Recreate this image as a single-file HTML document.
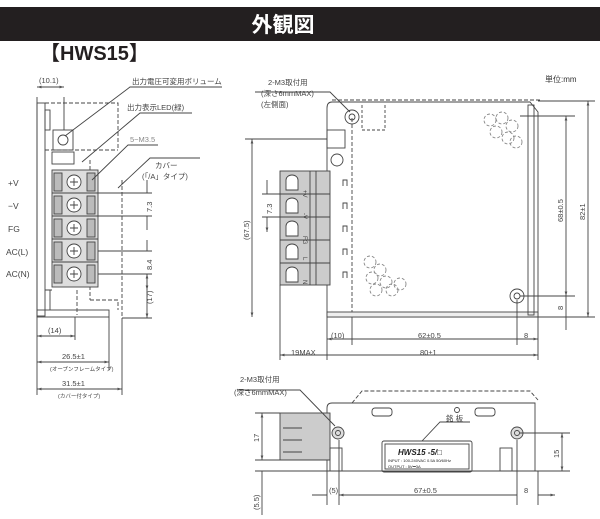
<!DOCTYPE html>
<html><head><meta charset="utf-8"><style>
html,body{margin:0;padding:0;background:#fff}
svg{display:block}
text{font-family:"Liberation Sans","Noto Sans CJK JP",sans-serif;fill:#444}
</style></head><body>
<svg width="600" height="519" viewBox="0 0 600 519" xmlns="http://www.w3.org/2000/svg">
<defs>
<marker id="a" viewBox="0 0 10 10" refX="10" refY="5" markerWidth="5" markerHeight="5" orient="auto-start-reverse"><path d="M0,2L10,5L0,8z" fill="#555"/></marker>
</defs>
<rect x="0" y="7" width="600" height="34" fill="#231f20"/>
<text x="283" y="32" font-size="21" font-weight="bold" text-anchor="middle" style="fill:#fff">外観図</text>
<text x="40" y="60" font-size="20" font-weight="bold" style="fill:#231f20">【HWS15】</text>
<text x="545" y="82" font-size="8" style="fill:#333">単位:mm</text>

<g stroke="#444" fill="none" stroke-width="0.9">
<!-- LEFT VIEW -->
<rect x="37" y="103" width="8" height="213"/>
<rect x="45" y="110" width="5" height="20"/>
<rect x="37" y="310" width="72" height="7"/>
<path d="M45,103 H118 V150 M45,150 H118" stroke-dasharray="4,2"/>
<rect x="53" y="130" width="20" height="20"/>
<circle cx="63" cy="140" r="5"/>
<rect x="52" y="152" width="22" height="12"/>
<path d="M90,160 V300 M122,180 V318 M77,290 V315 M90,300 H118 V310" stroke-dasharray="4,2"/>
<path d="M45,290 H52 M50,290 V310"/>
<rect x="52" y="170" width="46" height="117" fill="#ddd"/>
<g fill="#bbb">
<rect x="54" y="173" width="8" height="18"/><rect x="87" y="173" width="8" height="18"/>
<rect x="54" y="196" width="8" height="18"/><rect x="87" y="196" width="8" height="18"/>
<rect x="54" y="219" width="8" height="18"/><rect x="87" y="219" width="8" height="18"/>
<rect x="54" y="242" width="8" height="18"/><rect x="87" y="242" width="8" height="18"/>
<rect x="54" y="265" width="8" height="18"/><rect x="87" y="265" width="8" height="18"/>
</g>
<path d="M52,193 H98 M52,216 H98 M52,239 H98 M52,262 H98"/>
<g fill="#fff"><circle cx="74" cy="182" r="7"/><circle cx="74" cy="205" r="7"/><circle cx="74" cy="228" r="7"/><circle cx="74" cy="251" r="7"/><circle cx="74" cy="274" r="7"/></g>
<path d="M70,182h8M74,178v8M70,205h8M74,201v8M70,228h8M74,224v8M70,251h8M74,247v8M70,274h8M74,270v8"/>
<path d="M98,193 H152 M98,216 H152 M98,251 H152 M98,274 H152 M122,318 H152"/>
<path d="M147,180 V193 M147,216 V230 M147,240 V251 M147,274 V290" marker-end="url(#a)"/>
<path d="M147,274 V318" marker-start="url(#a)" marker-end="url(#a)"/>
<path d="M37,97 V320 M64,97 V130"/>
<path d="M37,87 H64" marker-start="url(#a)" marker-end="url(#a)"/>
<path d="M37,320 V395 M75,317 V340 M109,317 V370 M122,318 V395"/>
<path d="M37,336 H75" marker-start="url(#a)" marker-end="url(#a)"/>
<path d="M37,362 H109" marker-start="url(#a)" marker-end="url(#a)"/>
<path d="M37,389 H122" marker-start="url(#a)" marker-end="url(#a)"/>
<path d="M65,136 L130,87 H222 M82,162 L140,113 H192 M92,180 L128,145 H158 M118,188 L150,158 H200"/>

<!-- MIDDLE VIEW -->
<path d="M332,102 H530 L538,112 V317 H327 V108 Q327,102 332,102 Z"/>
<path d="M332,100 H540 M352,118 V317" stroke-dasharray="4,2"/>
<rect x="327" y="312" width="211" height="5" fill="#eee"/>
<rect x="528" y="105" width="6" height="210"/>
<circle cx="352" cy="117" r="7"/><circle cx="352" cy="117" r="3"/>
<circle cx="517" cy="296" r="7"/><circle cx="517" cy="296" r="3"/>
<rect x="327" y="130" width="18" height="18"/>
<circle cx="337" cy="160" r="6"/>
<path d="M362,105 V130 H385 V105" stroke-dasharray="3,2"/>
<g stroke-dasharray="3,2" stroke="#888">
<circle cx="490" cy="120" r="6"/><circle cx="502" cy="118" r="6"/><circle cx="512" cy="126" r="6"/><circle cx="496" cy="132" r="6"/><circle cx="508" cy="138" r="6"/><circle cx="516" cy="142" r="6"/>
<circle cx="370" cy="262" r="6"/><circle cx="380" cy="270" r="6"/><circle cx="372" cy="278" r="6"/><circle cx="386" cy="282" r="6"/><circle cx="376" cy="290" r="6"/><circle cx="392" cy="290" r="6"/><circle cx="400" cy="284" r="6"/>
</g>
<rect x="280" y="171" width="50" height="114" fill="#ccc"/>
<path d="M280,194 H330 M280,217 H330 M280,240 H330 M280,263 H330 M310,171 V285 M316,171 V285"/>
<g fill="#fff">
<path d="M286,190 V180 a6,5 0 0 1 12,0 V190 Z"/><path d="M286,213 V203 a6,5 0 0 1 12,0 V213 Z"/><path d="M286,236 V226 a6,5 0 0 1 12,0 V236 Z"/><path d="M286,259 V249 a6,5 0 0 1 12,0 V259 Z"/><path d="M286,282 V272 a6,5 0 0 1 12,0 V282 Z"/>
</g>
<path d="M343,186 v-6 h4 v6 M343,209 v-6 h4 v6 M343,232 v-6 h4 v6 M343,255 v-6 h4 v6 M343,278 v-6 h4 v6"/>
<path d="M245,139 H327 M262,194 H280 M262,217 H280 M538,101 H595 M520,116 H575 M520,296 H575 M527,317 H595"/>
<path d="M252,139 V317" marker-start="url(#a)" marker-end="url(#a)"/>
<path d="M267,180 V194 M267,217 V232" marker-end="url(#a)"/>
<path d="M588,101 V317" marker-start="url(#a)" marker-end="url(#a)"/>
<path d="M566,116 V296" marker-start="url(#a)" marker-end="url(#a)"/>
<path d="M566,296 V330"/>
<path d="M327,317 V360 M352,317 V345 M517,300 V345 M538,317 V360 M280,285 V360"/>
<path d="M327,339 H352 M352,339 H517 M517,339 H538" marker-start="url(#a)" marker-end="url(#a)"/>
<path d="M280,355 H327 M327,355 H538" marker-start="url(#a)" marker-end="url(#a)"/>
<path d="M350,112 L330,92 H255"/>

<!-- BOTTOM VIEW -->
<path d="M332,403 H535 V471 H327 V408 Q327,403 332,403 Z"/>
<path d="M352,403 L362,391 H530 L538,400" stroke-dasharray="4,2"/>
<rect x="280" y="413" width="50" height="47" fill="#ccc"/>
<path d="M283,428 H302 M283,440 H302 M283,452 H302"/>
<circle cx="338" cy="433" r="6" fill="#ddd"/><circle cx="338" cy="433" r="2.5"/>
<circle cx="517" cy="433" r="6" fill="#ddd"/><circle cx="517" cy="433" r="2.5"/>
<rect x="372" y="408" width="20" height="8" rx="3"/><rect x="475" y="408" width="20" height="8" rx="3"/>
<circle cx="457" cy="410" r="2.5"/>
<rect x="330" y="448" width="12" height="23"/><rect x="500" y="448" width="12" height="23"/>
<rect x="382" y="441" width="90" height="31" rx="2"/>
<rect x="385" y="444" width="84" height="25"/>
<path d="M335,426 L300,390 H237 M422,441 L440,422 H470"/>
<path d="M255,413 H280 M255,460 H330 M255,471 H327 M520,433 H570 M535,471 H570"/>
<path d="M262,413 V460" marker-start="url(#a)" marker-end="url(#a)"/>
<path d="M562,433 V471" marker-start="url(#a)" marker-end="url(#a)"/>
<path d="M262,471 V515"/>
<path d="M327,471 V505 M339,440 V505 M517,440 V505 M538,471 V505"/>
<path d="M312,495 H327 M339,495 H517 M538,495 H555" marker-end="url(#a)"/>
<path d="M339,495 H517" marker-start="url(#a)"/>
</g>

<g font-size="8.5" fill="#444">
<text x="8" y="186">+V</text><text x="8" y="209">−V</text><text x="8" y="232">FG</text><text x="6" y="255">AC(L)</text><text x="6" y="277">AC(N)</text>
</g>
<g font-size="7.5">
<text x="39" y="83">(10.1)</text>
<text x="132" y="84">出力電圧可変用ボリューム</text>
<text x="127" y="110">出力表示LED(緑)</text>
<text x="130" y="142" style="fill:#888">5−M3.5</text>
<text x="155" y="168">カバー</text>
<text x="142" y="179">(「/A」タイプ)</text>
<text x="48" y="333">(14)</text>
<text x="62" y="359">26.5±1</text>
<text x="50" y="371" font-size="5.5">(オープンフレームタイプ)</text>
<text x="62" y="386">31.5±1</text>
<text x="58" y="398" font-size="5.5">(カバー付タイプ)</text>
<text x="268" y="85">2-M3取付用</text>
<text x="261" y="96">(深さ6mmMAX)</text>
<text x="261" y="107">(左側面)</text>
<text x="331" y="338">(10)</text>
<text x="418" y="338">62±0.5</text>
<text x="524" y="338">8</text>
<text x="291" y="355">19MAX</text>
<text x="420" y="355">80±1</text>
<text x="240" y="382">2-M3取付用</text>
<text x="234" y="395">(深さ6mmMAX)</text>
<text x="446" y="421">銘 板</text>
<text x="329" y="493">(5)</text>
<text x="414" y="493">67±0.5</text>
<text x="524" y="493">8</text>
</g>
<g font-size="7.5">
<text transform="translate(152,212) rotate(-90)">7.3</text>
<text transform="translate(152,270) rotate(-90)">8.4</text>
<text transform="translate(152,304) rotate(-90)">(17)</text>
<text transform="translate(249,240) rotate(-90)">(67.5)</text>
<text transform="translate(272,214) rotate(-90)">7.3</text>
<text transform="translate(563,222) rotate(-90)">68±0.5</text>
<text transform="translate(585,220) rotate(-90)">82±1</text>
<text transform="translate(563,310) rotate(-90)">8</text>
<text transform="translate(259,442) rotate(-90)">17</text>
<text transform="translate(559,458) rotate(-90)">15</text>
<text transform="translate(259,510) rotate(-90)">(5.5)</text>
</g>
<g font-size="6" style="fill:#333">
<text transform="translate(303,190) rotate(90)">+V</text>
<text transform="translate(303,213) rotate(90)">-V</text>
<text transform="translate(303,236) rotate(90)">FG</text>
<text transform="translate(303,257) rotate(90)">L</text>
<text transform="translate(303,280) rotate(90)">N</text>
</g>
<text x="398" y="455" font-size="8" font-weight="bold" font-style="italic" style="fill:#222">HWS15 -5/□</text>
<text x="388" y="462" font-size="4" style="fill:#222">INPUT : 100-240VAC 0.5A 50/60Hz</text>
<text x="388" y="468" font-size="4" style="fill:#222">OUTPUT : 5V⎓3A</text>
</svg>
</body></html>
